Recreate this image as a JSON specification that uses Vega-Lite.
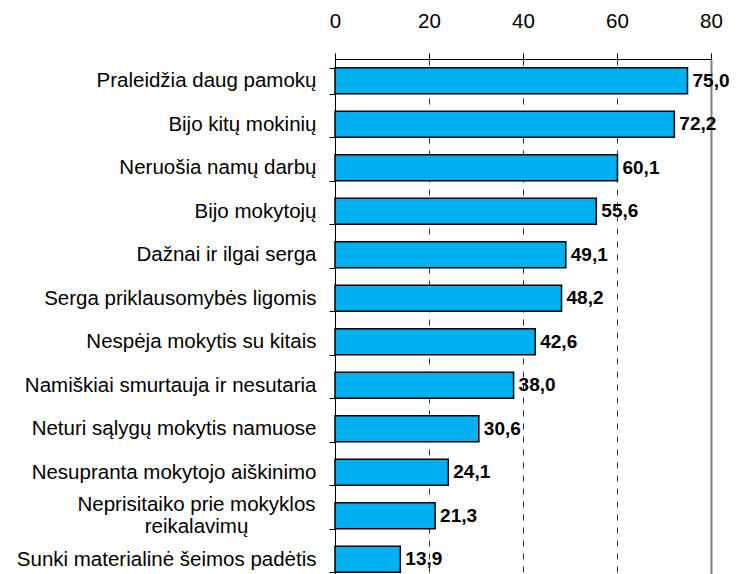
{
  "$schema": "https://vega.github.io/schema/vega-lite/v6.json",
  "autosize": "none",
  "width": 376,
  "height": 522,
  "padding": {"left": 335, "top": 59, "right": 28, "bottom": 0},
  "background": "white",
  "config": {
    "view": {"stroke": null},
    "font": "Liberation Sans",
    "locale": {"number": {"decimal": ",", "thousands": " ", "grouping": [3], "currency": ["", " €"]}}
  },
  "data": {
    "values": [
      {"cat": "Praleidžia daug pamokų", "v": 75.0},
      {"cat": "Bijo kitų mokinių", "v": 72.2},
      {"cat": "Neruošia namų darbų", "v": 60.1},
      {"cat": "Bijo mokytojų", "v": 55.6},
      {"cat": "Dažnai ir ilgai serga", "v": 49.1},
      {"cat": "Serga priklausomybės ligomis", "v": 48.2},
      {"cat": "Nespėja mokytis su kitais", "v": 42.6},
      {"cat": "Namiškiai smurtauja ir nesutaria", "v": 38.0},
      {"cat": "Neturi sąlygų mokytis namuose", "v": 30.6},
      {"cat": "Nesupranta mokytojo aiškinimo", "v": 24.1},
      {"cat": "Neprisitaiko prie mokyklos reikalavimų", "v": 21.3},
      {"cat": "Sunki materialinė šeimos padėtis", "v": 13.9}
    ]
  },
  "encoding": {
    "y": {
      "field": "cat",
      "type": "nominal",
      "sort": null,
      "scale": {"paddingInner": 0.4, "paddingOuter": 0.2},
      "axis": {
        "title": null,
        "domainColor": "black",
        "domainWidth": 1,
        "tickColor": "black",
        "tickSize": 6,
        "tickBand": "extent",
        "labelFontSize": 20.5,
        "labelColor": "black",
        "labelLimit": 400,
        "labelLineHeight": 22,
        "labelOffset": {"condition": {"test": "datum.value == 'Neprisitaiko prie mokyklos reikalavimų'", "value": -11}, "value": 0},
        "labelPadding": {"condition": {"test": "datum.value == 'Neprisitaiko prie mokyklos reikalavimų'", "value": 133}, "value": 13},
        "labelAlign": {"condition": {"test": "datum.value == 'Neprisitaiko prie mokyklos reikalavimų'", "value": "center"}, "value": "right"},
        "labelExpr": "datum.value == 'Neprisitaiko prie mokyklos reikalavimų' ? ['Neprisitaiko prie mokyklos', 'reikalavimų'] : datum.value"
      }
    }
  },
  "layer": [
    {
      "mark": {"type": "bar", "color": "#00B0F0", "stroke": "black", "strokeWidth": 1.5},
      "encoding": {
        "x": {
          "field": "v",
          "type": "quantitative",
          "scale": {"domain": [0, 80], "nice": false},
          "axis": {
            "orient": "top",
            "title": null,
            "values": [0, 20, 40, 60, 80],
            "domainColor": "black",
            "tickColor": "black",
            "tickSize": 6,
            "labelFontSize": 20.5,
            "labelColor": "black",
            "labelPadding": 22,
            "labelFlush": false,
            "grid": true,
            "gridColor": {"condition": {"test": "datum.value == 80", "value": "#808080"}, "value": "#333333"},
            "gridDash": {"condition": {"test": "datum.value == 80", "value": []}, "value": [6, 7]},
            "gridWidth": {"condition": {"test": "datum.value == 80", "value": 2}, "value": 1},
            "gridOpacity": {"condition": {"test": "datum.value == 0", "value": 0}, "value": 1}
          }
        }
      }
    },
    {
      "mark": {"type": "text", "align": "left", "baseline": "middle", "dx": 5, "fontSize": 19, "fontWeight": "bold", "color": "black"},
      "encoding": {
        "x": {"field": "v", "type": "quantitative"},
        "text": {"field": "v", "type": "quantitative", "format": ".1f"}
      }
    }
  ]
}
